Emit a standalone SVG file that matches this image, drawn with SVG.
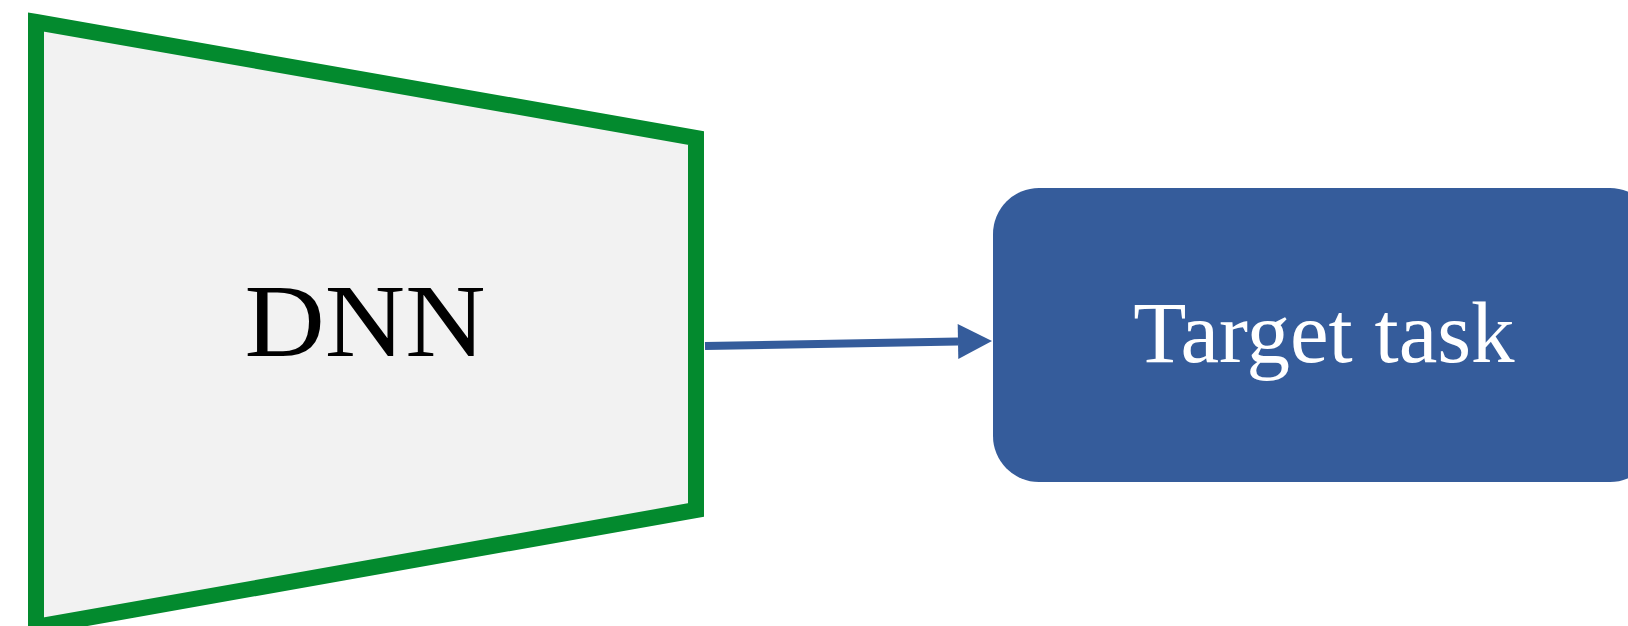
<svg xmlns="http://www.w3.org/2000/svg" width="1628" height="626" viewBox="0 0 1628 626">
  <defs>
    <style>
      .dnn { fill: #F2F2F2; stroke: #038A2E; stroke-width: 16; stroke-linejoin: miter; }
      .task { fill: #355C9B; }
      .link { stroke: #355C9B; stroke-width: 8; fill: none; }
      .label { font-family: "Liberation Serif", "Times New Roman", serif; text-anchor: middle; }
    </style>
    <marker id="arrow" markerUnits="userSpaceOnUse" markerWidth="36" markerHeight="36" refX="0" refY="17.5" orient="auto" overflow="visible">
      <path d="M0,0 L34,17.5 L0,35 Z" fill="#355C9B"/>
    </marker>
  </defs>

  <g id="node-dnn">
    <polygon class="dnn" points="36,22 696,138 696,510 36,627"/>
    <text class="label" x="365" y="356" font-size="104" fill="#000000" textLength="241" lengthAdjust="spacingAndGlyphs">DNN</text>
  </g>

  <g id="node-target">
    <rect class="task" x="993" y="188" width="663" height="294" rx="46" ry="46"/>
    <text class="label" x="1324" y="362" font-size="87" fill="#FFFFFF">Target task</text>
  </g>

  <g id="connectors">
    <line class="link" x1="705" y1="346" x2="958" y2="341.6" marker-end="url(#arrow)"/>
  </g>
</svg>
